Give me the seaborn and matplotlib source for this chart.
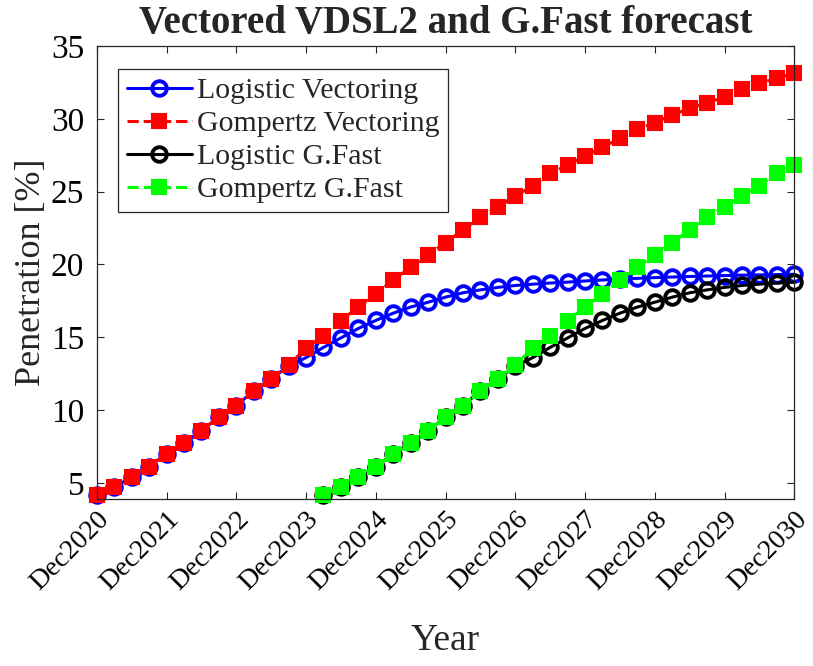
import numpy as np
import pandas as pd
import seaborn as sns
import matplotlib.pyplot as plt

# quarterly points, Dec2020 .. Dec2030
years = ["Dec%d" % y for y in range(2020, 2031)]

logistic_vectoring = [4.18, 4.7, 5.39, 6.12, 6.99, 7.72, 8.59, 9.5, 10.3, 11.31,
                      12.14, 13.0, 13.6, 14.3, 14.95, 15.6, 16.15, 16.65, 17.07, 17.4,
                      17.75, 18.05, 18.25, 18.42, 18.55, 18.64, 18.72, 18.78, 18.86, 18.93,
                      18.99, 19.04, 19.09, 19.13, 19.17, 19.2, 19.23, 19.26, 19.28, 19.3,
                      19.32]
gompertz_vectoring = [4.18, 4.7, 5.39, 6.12, 6.99, 7.72, 8.59, 9.5, 10.3, 11.31,
                      12.14, 13.1, 14.24, 15.09, 16.12, 17.1, 17.97, 18.93, 19.8, 20.65,
                      21.5, 22.36, 23.24, 23.96, 24.7, 25.38, 26.25, 26.82, 27.44, 28.04,
                      28.66, 29.28, 29.73, 30.26, 30.72, 31.1, 31.51, 32.02, 32.43, 32.78,
                      33.12]
# G.Fast starts 13 quarters later
gfast_start = 13
logistic_gfast = [4.18, 4.7, 5.39, 6.12, 6.99, 7.72, 8.59, 9.5, 10.3, 11.31,
                  12.14, 13.0, 13.6, 14.3, 14.95, 15.6, 16.15, 16.65, 17.07, 17.4,
                  17.75, 18.05, 18.25, 18.42, 18.55, 18.64, 18.72, 18.78]
gompertz_gfast = [4.18, 4.7, 5.39, 6.12, 6.99, 7.72, 8.59, 9.5, 10.3, 11.31,
                  12.14, 13.1, 14.24, 15.09, 16.12, 17.1, 17.97, 18.93, 19.8, 20.65,
                  21.5, 22.36, 23.24, 23.96, 24.7, 25.38, 26.25, 26.82]

sns.set_style("ticks")
plt.rcParams["font.family"] = ["Liberation Serif", "DejaVu Serif"]

fig = plt.figure(figsize=(8.13, 6.66), dpi=100)
ax = fig.add_axes([0.119, 0.251, 0.858, 0.680])

q_vec = np.arange(len(logistic_vectoring))
q_gf = np.arange(gfast_start, gfast_start + len(logistic_gfast))

series = [
    ("Logistic Vectoring", q_vec, logistic_vectoring, "#0000ff", "-", "o"),
    ("Gompertz Vectoring", q_vec, gompertz_vectoring, "#ff0000", "--", "s"),
    ("Logistic G.Fast", q_gf, logistic_gfast, "#000000", "-", "o"),
    ("Gompertz G.Fast", q_gf, gompertz_gfast, "#00ff00", "--", "s"),
]

for name, x, y, col, ls, mk in series:
    if mk == "o":
        mkw = dict(markersize=10.5, markerfacecolor="none", markeredgecolor=col,
                   markeredgewidth=2.8)
    else:
        mkw = dict(markersize=10, markerfacecolor=col, markeredgecolor=col,
                   markeredgewidth=1.5)
    sns.lineplot(x=x, y=y, ax=ax, color=col, linestyle=ls, linewidth=2.2,
                 marker=mk, label=name, clip_on=False, **mkw)

ax.set_xlim(0, 40)
ax.set_ylim(3.9, 35)
ax.set_xticks(np.arange(0, 41, 4))
ax.set_xticklabels(years, rotation=45, ha="right", rotation_mode="anchor", fontsize=20)
ax.set_yticks([5, 10, 15, 20, 25, 30, 35])
ax.tick_params(axis="y", labelsize=24, pad=9)
ax.tick_params(axis="x", pad=6)
ax.tick_params(direction="in", top=True, right=True, length=5, width=0.8,
               colors="#262626", labelcolor="black")
for s in ax.spines.values():
    s.set_visible(True)
    s.set_linewidth(0.9)
    s.set_color("#262626")

ax.set_xlabel("Year", fontsize=27, labelpad=20)
ax.set_ylabel("Penetration [%]", fontsize=26, labelpad=2)
ax.set_title("Vectored VDSL2 and G.Fast forecast", fontsize=28, fontweight="bold", pad=9)

leg = ax.legend(loc="upper left", bbox_to_anchor=(0.03, 0.95), fontsize=21.5,
                handlelength=2.2, handletextpad=0.15, labelspacing=0.2,
                borderpad=0.3, borderaxespad=0, fancybox=False, framealpha=1,
                edgecolor="#262626")
leg.get_frame().set_linewidth(0.9)

fig.savefig("out.png", dpi=100)
